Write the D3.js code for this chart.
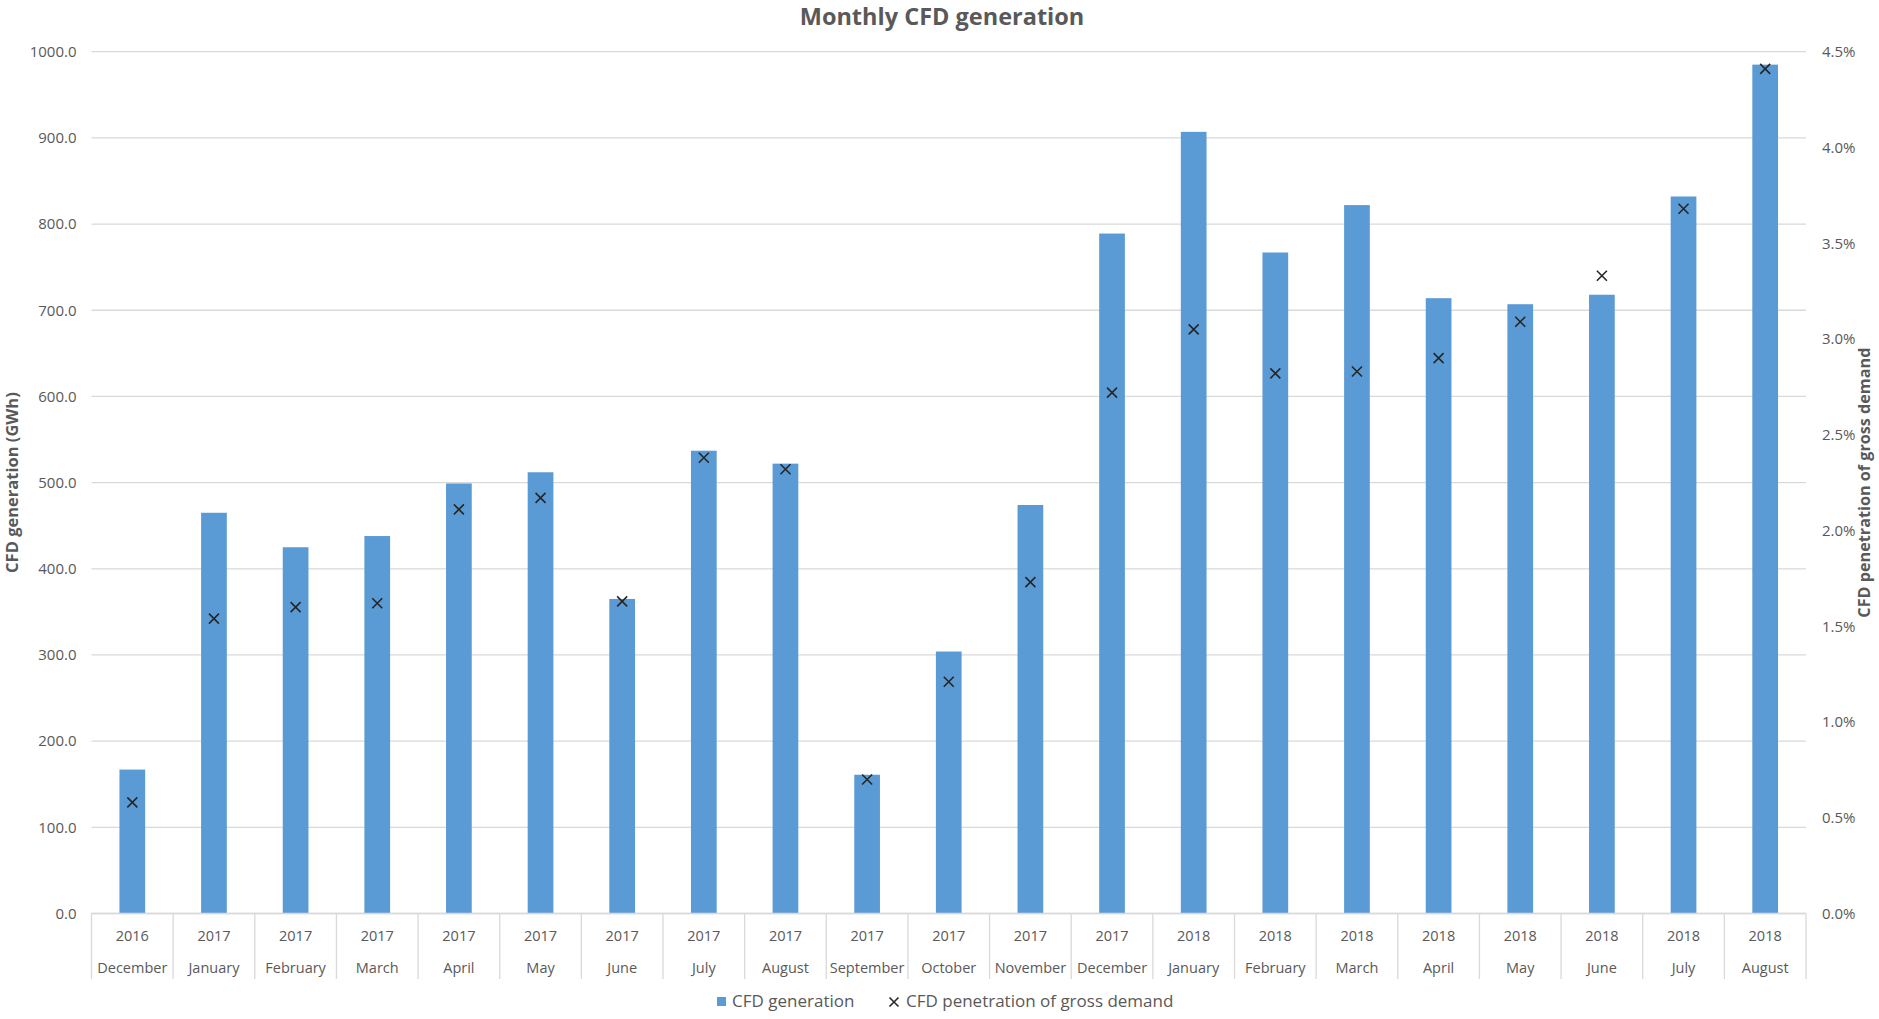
<!DOCTYPE html>
<html>
<head>
<meta charset="utf-8">
<script src="https://cdn.jsdelivr.net/npm/d3@7"></script>
<style>
  html, body { margin: 0; padding: 0; background: #fff; }
  svg { display: block; font-family: "Open Sans", "Noto Sans", sans-serif; }
</style>
</head>
<body>
<svg id="chart" width="1879" height="1019"></svg>
<script>
// Monthly CFD generation (GWh) and share of gross demand (%)
const years = ["2016","2017","2017","2017","2017","2017","2017","2017","2017","2017","2017","2017","2017",
               "2018","2018","2018","2018","2018","2018","2018","2018"];
const months = ["December","January","February","March","April","May","June","July","August","September",
                "October","November","December","January","February","March","April","May","June","July","August"];
const generation = [167, 465, 425, 438, 499, 512, 365, 537, 522, 161, 304, 474, 789, 907, 767, 822, 714, 707, 718, 832, 985];
const penetration = [0.58, 1.54, 1.60, 1.62, 2.11, 2.17, 1.63, 2.38, 2.32, 0.70, 1.21, 1.73, 2.72, 3.05, 2.82, 2.83, 2.90, 3.09, 3.33, 3.68, 4.41];
const leftTicks = [0, 100, 200, 300, 400, 500, 600, 700, 800, 900, 1000];
const rightTicks = [0, 0.5, 1.0, 1.5, 2.0, 2.5, 3.0, 3.5, 4.0, 4.5];

const svg = d3.select("#chart");
const textGray = "#595959";
const gridGray = "#d9d9d9";
const barBlue = "#5b9bd5";

const plot = { left: 91.5, right: 1806, top: 51.7, bottom: 913.5 };

const idx = d3.range(generation.length);
const x = d3.scaleBand().domain(idx).range([plot.left, plot.right]).padding(0);
const y = d3.scaleLinear().domain([0, 1000]).range([plot.bottom, plot.top]);
const y2 = d3.scaleLinear().domain([0, 4.5]).range([plot.bottom, plot.top]);
const barW = x.bandwidth() * 0.315;

// Title
svg.append("text")
  .attr("x", 942).attr("y", 25)
  .attr("text-anchor", "middle")
  .attr("font-size", 23.5).attr("font-weight", 700)
  .attr("fill", textGray)
  .text("Monthly CFD generation");

// Horizontal gridlines
svg.append("g").selectAll("line").data(leftTicks).join("line")
  .attr("x1", plot.left).attr("x2", plot.right)
  .attr("y1", d => y(d)).attr("y2", d => y(d))
  .attr("stroke", gridGray).attr("stroke-width", 1.3);

// Left axis labels
const leftAxis = d3.axisLeft(y).tickValues(leftTicks).tickFormat(d3.format(".1f")).tickSize(0).tickPadding(15);
svg.append("g").attr("transform", `translate(${plot.left},0)`).call(leftAxis)
  .call(g => g.select(".domain").remove())
  .call(g => g.selectAll("text").attr("fill", textGray).attr("font-size", 15)
    .attr("font-family", "'Open Sans', sans-serif"));

// Right axis labels
const rightAxis = d3.axisRight(y2).tickValues(rightTicks).tickFormat(d => d.toFixed(1) + "%").tickSize(0).tickPadding(16);
svg.append("g").attr("transform", `translate(${plot.right},0)`).call(rightAxis)
  .call(g => g.select(".domain").remove())
  .call(g => g.selectAll("text").attr("fill", textGray).attr("font-size", 15)
    .attr("font-family", "'Open Sans', sans-serif"));

// Axis titles
svg.append("text")
  .attr("transform", `translate(14,${(plot.top + plot.bottom) / 2}) rotate(-90)`)
  .attr("text-anchor", "middle").attr("dominant-baseline", "middle")
  .attr("font-size", 16.5).attr("font-weight", 700).attr("fill", textGray)
  .text("CFD generation (GWh)");
svg.append("text")
  .attr("transform", `translate(1866,${(plot.top + plot.bottom) / 2}) rotate(-90)`)
  .attr("text-anchor", "middle").attr("dominant-baseline", "middle")
  .attr("font-size", 16.2).attr("font-weight", 700).attr("fill", textGray)
  .text("CFD penetration of gross demand");

// Bars
svg.append("g").selectAll("rect").data(idx).join("rect")
  .attr("x", i => x(i) + x.bandwidth() / 2 - barW / 2)
  .attr("width", barW)
  .attr("y", i => y(generation[i]))
  .attr("height", i => y(0) - y(generation[i]))
  .attr("fill", barBlue);

// Penetration markers
const mk = 5;
svg.append("g").selectAll("path").data(idx).join("path")
  .attr("d", i => {
    const cx = x(i) + x.bandwidth() / 2, cy = y2(penetration[i]);
    return `M${cx - mk},${cy - mk}L${cx + mk},${cy + mk}M${cx - mk},${cy + mk}L${cx + mk},${cy - mk}`;
  })
  .attr("stroke", "#262626").attr("stroke-width", 1.6).attr("fill", "none");

// Category axis: baseline, separators and two-level labels
svg.append("line")
  .attr("x1", plot.left).attr("x2", plot.right)
  .attr("y1", plot.bottom).attr("y2", plot.bottom)
  .attr("stroke", gridGray).attr("stroke-width", 1.3);
const bounds = idx.map(i => x(i)).concat([plot.right]);
svg.append("g").selectAll("line").data(bounds).join("line")
  .attr("x1", d => d).attr("x2", d => d)
  .attr("y1", plot.bottom).attr("y2", 979)
  .attr("stroke", gridGray).attr("stroke-width", 1.3);
const cat = svg.append("g").attr("fill", textGray).attr("font-size", 14.5).attr("text-anchor", "middle");
cat.selectAll("text.yr").data(idx).join("text").attr("class", "yr")
  .attr("x", i => x(i) + x.bandwidth() / 2).attr("y", 937)
  .attr("dominant-baseline", "middle").text(i => years[i]);
cat.selectAll("text.mo").data(idx).join("text").attr("class", "mo")
  .attr("x", i => x(i) + x.bandwidth() / 2).attr("y", 969)
  .attr("dominant-baseline", "middle").text(i => months[i]);

// Legend
const lg = svg.append("g").attr("font-size", 17).attr("fill", textGray);
lg.append("rect").attr("x", 717).attr("y", 997).attr("width", 9).attr("height", 9).attr("fill", barBlue);
lg.append("text").attr("x", 732).attr("y", 1002).attr("dominant-baseline", "middle").text("CFD generation");
lg.append("path")
  .attr("d", `M${894 - 4.5},${1002 - 4.5}L${894 + 4.5},${1002 + 4.5}M${894 - 4.5},${1002 + 4.5}L${894 + 4.5},${1002 - 4.5}`)
  .attr("stroke", "#262626").attr("stroke-width", 1.6);
lg.append("text").attr("x", 906).attr("y", 1002).attr("dominant-baseline", "middle").text("CFD penetration of gross demand");
</script>
</body>
</html>
